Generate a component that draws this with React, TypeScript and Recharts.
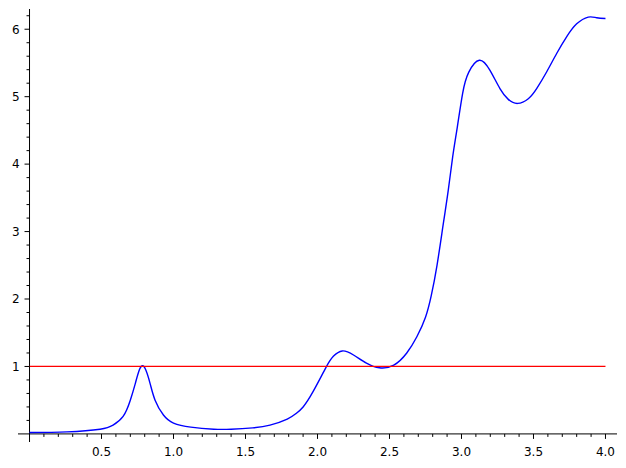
import React from "react";
import { LineChart, Line, XAxis, YAxis, ReferenceLine } from "recharts";

// ---- data ----
const curveX = [
  0.0, 0.26, 0.49, 0.58, 0.65, 0.7, 0.735, 0.763, 0.785, 0.807, 0.837, 0.872, 0.93,
  1.0, 1.12, 1.28, 1.4, 1.55, 1.67, 1.79, 1.85, 1.9, 1.97, 2.06, 2.11, 2.172, 2.25, 2.34,
  2.43, 2.53, 2.62, 2.69, 2.75, 2.79, 2.83, 2.874, 2.908, 2.939, 2.971, 3.008,
  3.05, 3.124, 3.198, 3.267, 3.325, 3.39, 3.464, 3.522, 3.592, 3.661, 3.731, 3.8,
  3.88, 3.939, 4.0,
];
const curveY = [
  0.02, 0.03, 0.07, 0.13, 0.26, 0.5, 0.75, 0.95, 1.01, 0.95, 0.75, 0.5, 0.28,
  0.16, 0.1, 0.07, 0.07, 0.09, 0.13, 0.22, 0.3, 0.4, 0.63, 0.99, 1.15, 1.23, 1.17, 1.05,
  0.98, 1.02, 1.2, 1.44, 1.73, 2.05, 2.5, 3.12, 3.61, 4.11, 4.55, 5.05,
  5.36, 5.54, 5.39, 5.12, 4.96, 4.9, 4.97, 5.12, 5.37, 5.64, 5.89, 6.08,
  6.18, 6.17, 6.16,
];
const refX = [0, 4];
const refY = [1, 1];

const xTicks = [
  0.1, 0.2, 0.3, 0.4, 0.5, 0.6, 0.7, 0.8, 0.9, 1.0,
  1.1, 1.2, 1.3, 1.4, 1.5, 1.6, 1.7, 1.8, 1.9, 2.0,
  2.1, 2.2, 2.3, 2.4, 2.5, 2.6, 2.7, 2.8, 2.9, 3.0,
  3.1, 3.2, 3.3, 3.4, 3.5, 3.6, 3.7, 3.8, 3.9, 4.0,
];
const xMajor = [0.5, 1.0, 1.5, 2.0, 2.5, 3.0, 3.5, 4.0];
const yTicks = [
  0.2, 0.4, 0.6, 0.8, 1, 1.2, 1.4, 1.6, 1.8, 2, 2.2, 2.4, 2.6, 2.8, 3,
  3.2, 3.4, 3.6, 3.8, 4, 4.2, 4.4, 4.6, 4.8, 5, 5.2, 5.4, 5.6, 5.8, 6, 6.2,
];
const yMajor = [1, 2, 3, 4, 5, 6];

const X_DOMAIN: [number, number] = [-0.08, 4.08];
const Y_DOMAIN: [number, number] = [-0.12, 6.3];

const curveData = curveX.map((x, i) => ({ x, y: curveY[i] }));
const refData = refX.map((x, i) => ({ x, y: refY[i] }));

// ---- layout ----
const W = 618;
const H = 460;
const MARGIN = { top: 1, right: 9, bottom: 0, left: 0 };
const Y_AXIS_W = 10;
const X_AXIS_H = 26;
const PLOT_L = MARGIN.left + Y_AXIS_W;
const PLOT_T = MARGIN.top;
const PLOT_W = W - PLOT_L - MARGIN.right;
const PLOT_H = H - PLOT_T - MARGIN.bottom - X_AXIS_H;
const X0 = PLOT_L + ((0 - X_DOMAIN[0]) / (X_DOMAIN[1] - X_DOMAIN[0])) * PLOT_W;
const Y0 = PLOT_T + ((Y_DOMAIN[1] - 0) / (Y_DOMAIN[1] - Y_DOMAIN[0])) * PLOT_H;

const FONT = "'DejaVu Sans', sans-serif";

const isIn = (arr: number[], v: number) => arr.some((a) => Math.abs(a - v) < 1e-6);

const XTick = (props: any) => {
  const { x, payload } = props;
  const v = payload.value as number;
  const major = isIn(xMajor, v);
  return (
    <g>
      <line x1={x} x2={x} y1={Y0} y2={Y0 + (major ? 5 : 3)} stroke="#000" strokeWidth={1} />
      {major && (
        <text x={x} y={Y0 + 22} textAnchor="middle" fontSize={12} fontFamily={FONT} fill="#000">
          {v.toFixed(1)}
        </text>
      )}
    </g>
  );
};

const YTick = (props: any) => {
  const { y, payload } = props;
  const v = payload.value as number;
  const major = isIn(yMajor, v);
  return (
    <g>
      <line x1={X0 - (major ? 5 : 3)} x2={X0} y1={y} y2={y} stroke="#000" strokeWidth={1} />
      {major && (
        <text x={X0 - 10} y={y + 4.3} textAnchor="end" fontSize={12} fontFamily={FONT} fill="#000">
          {String(v)}
        </text>
      )}
    </g>
  );
};

export default function App() {
  return (
    <LineChart width={W} height={H} margin={MARGIN}>
      <XAxis
        type="number"
        dataKey="x"
        domain={X_DOMAIN}
        allowDataOverflow
        ticks={xTicks}
        interval={0}
        axisLine={false}
        tickLine={false}
        height={X_AXIS_H}
        tick={<XTick />}
      />
      <YAxis
        type="number"
        dataKey="y"
        domain={Y_DOMAIN}
        allowDataOverflow
        ticks={yTicks}
        interval={0}
        axisLine={false}
        tickLine={false}
        width={Y_AXIS_W}
        tick={<YTick />}
      />
      <ReferenceLine x={0} stroke="#000" strokeWidth={1} />
      <ReferenceLine y={0} stroke="#000" strokeWidth={1} />
      <Line
        data={curveData}
        dataKey="y"
        type="natural"
        stroke="#0000ff"
        strokeWidth={1.4}
        dot={false}
        isAnimationActive={false}
      />
      <Line
        data={refData}
        dataKey="y"
        type="linear"
        stroke="#ff0000"
        strokeWidth={1.2}
        dot={false}
        isAnimationActive={false}
      />
    </LineChart>
  );
}
